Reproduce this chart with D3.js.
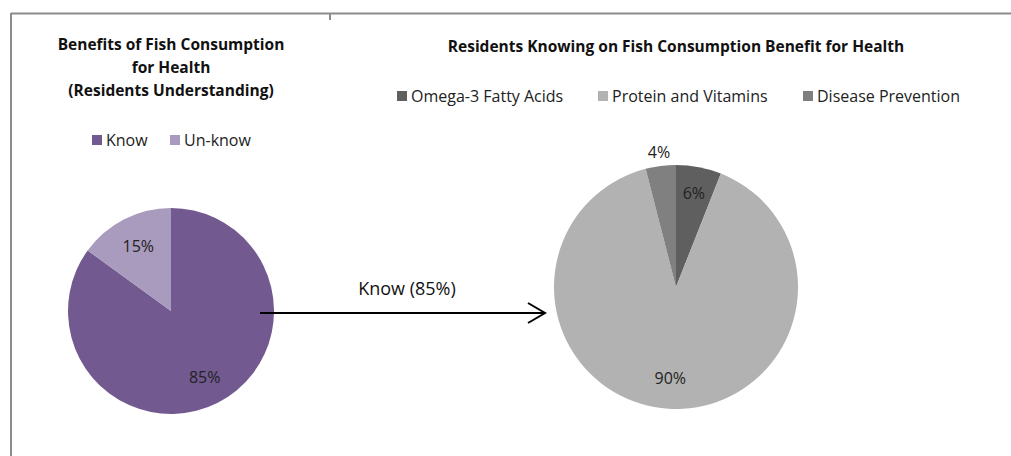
<!DOCTYPE html>
<html>
<head>
<meta charset="utf-8">
<script src="https://cdn.jsdelivr.net/npm/d3@7"></script>
<style>
  html, body { margin: 0; padding: 0; background: #fff; }
  svg { display: block; font-family: "Open Sans", Lato, sans-serif; }
</style>
</head>
<body>
<svg id="chart" width="1011" height="456"></svg>
<script>
// ── data ──
const awareCats   = ['Know', 'Un-know'];
const awareVals   = [85, 15];
const awareColors = ['#725990', '#a99bbd'];

const benefitCats   = ['Omega-3 Fatty Acids', 'Protein and Vitamins', 'Disease Prevention'];
const benefitVals   = [6, 90, 4];
const benefitColors = ['#5f5f5f', '#b2b2b2', '#808080'];

const leftTitle  = ['Benefits of Fish Consumption', 'for Health', '(Residents Understanding)'];
const rightTitle = 'Residents Knowing on Fish Consumption Benefit for Health';
const arrowLabel = 'Know (85%)';

const svg = d3.select('#chart');

// frame (top + left border, small tick)
svg.append('line').attr('x1', 11).attr('x2', 1011).attr('y1', 13.5).attr('y2', 13.5)
  .attr('stroke', '#8c8c8c').attr('stroke-width', 2);
svg.append('line').attr('x1', 11).attr('x2', 11).attr('y1', 13).attr('y2', 456)
  .attr('stroke', '#8c8c8c').attr('stroke-width', 2);
svg.append('line').attr('x1', 330).attr('x2', 330).attr('y1', 13).attr('y2', 20)
  .attr('stroke', '#8c8c8c').attr('stroke-width', 2);

const pie = d3.pie().sort(null).value(d => d);

function drawPie(cfg) {
  const g = svg.append('g').attr('transform', `translate(${cfg.cx},${cfg.cy})`);
  const arcs = pie(cfg.values);
  const arc = d3.arc().innerRadius(0).outerRadius(cfg.r);
  g.selectAll('path').data(arcs).enter().append('path')
    .attr('d', arc)
    .attr('fill', (d, i) => cfg.colors[i]);
  g.selectAll('text').data(arcs).enter().append('text')
    .attr('transform', (d, i) => {
      const rr = cfg.r * cfg.labelR[i];
      const a = (d.startAngle + d.endAngle) / 2;
      return `translate(${Math.sin(a) * rr},${-Math.cos(a) * rr})`;
    })
    .attr('text-anchor', 'middle')
    .attr('dy', '0.35em')
    .attr('font-size', 16)
    .attr('fill', '#222')
    .text(d => `${d.data}%`);
}

function drawLegend(items, colors, x0, y, gaps) {
  let x = x0;
  items.forEach((name, i) => {
    svg.append('rect').attr('x', x).attr('y', y - 5).attr('width', 10).attr('height', 10)
      .attr('fill', colors[i]);
    svg.append('text').attr('x', x + 14).attr('y', y).attr('dy', '0.35em')
      .attr('font-size', 16).attr('fill', '#222').text(name);
    x += gaps[i];
  });
}

// left chart
leftTitle.forEach((s, i) => {
  svg.append('text').attr('x', 171).attr('y', 45 + i * 23).attr('dy', '0.35em')
    .attr('text-anchor', 'middle').attr('font-size', 15.5).attr('font-weight', 'bold')
    .attr('fill', '#111').text(s);
});
drawLegend(awareCats, awareColors, 92, 140, [78, 0]);
drawPie({ cx: 171, cy: 311, r: 103, values: awareVals, colors: awareColors, labelR: [0.72, 0.7] });

// right chart
svg.append('text').attr('x', 676).attr('y', 47).attr('dy', '0.35em')
  .attr('text-anchor', 'middle').attr('font-size', 15.5).attr('font-weight', 'bold')
  .attr('fill', '#111').text(rightTitle);
drawLegend(benefitCats, benefitColors, 397, 96, [201, 205, 0]);
drawPie({ cx: 676, cy: 287, r: 122, values: benefitVals, colors: benefitColors, labelR: [0.78, 0.75, 1.11] });

// arrow
svg.append('line').attr('x1', 260).attr('x2', 545).attr('y1', 313).attr('y2', 313)
  .attr('stroke', '#000').attr('stroke-width', 2);
svg.append('path').attr('d', 'M528,303 L545,313 L528,323')
  .attr('fill', 'none').attr('stroke', '#000').attr('stroke-width', 2);
svg.append('text').attr('x', 407).attr('y', 289).attr('dy', '0.35em')
  .attr('text-anchor', 'middle').attr('font-size', 18).attr('fill', '#111').text(arrowLabel);
</script>
</body>
</html>
